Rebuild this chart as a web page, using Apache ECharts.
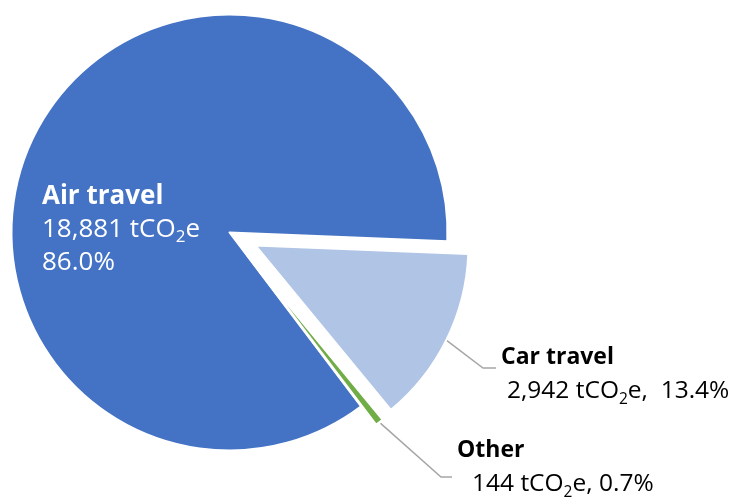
<!DOCTYPE html>
<html>
<head>
<meta charset="utf-8">
<script src="https://cdn.jsdelivr.net/npm/echarts@6/dist/echarts.min.js"></script>
<style>
html,body{margin:0;padding:0;background:#fff;}
#chart{width:735px;height:497px;}
</style>
</head>
<body>
<div id="chart"></div>
<script>
// ---- data ----
const categories = ['Car travel', 'Other', 'Air travel'];
const values = [2942, 144, 18881];
const unitPrefix = 'tCO';
const unitSub = '2';
const unitSuffix = 'e';
const colors = ['#B0C4E6', '#70AD47', '#4472C4'];

// ---- layout ----
const FONT = '"Open Sans", "Liberation Sans", sans-serif';
const CENTER = [229.5, 232.5];
const R_MAIN = 218;
const R_EXPL = 213;
const OFFSET = 29;
const START = -2.3;

const total = values.reduce((a, b) => a + b, 0);
const pct = values.map(v => (v / total * 100).toFixed(1) + '%');
const fmt = v => v.toLocaleString('en-US');

// mid angle (math degrees, ccw) of each slice
let cum = 0;
const midAngles = values.map(v => {
  const a = START - (cum + v / 2) / total * 360;
  cum += v;
  return a;
});
function shifted(i, d) {
  const t = midAngles[i] * Math.PI / 180;
  return [CENTER[0] + d * Math.cos(t), CENTER[1] - d * Math.sin(t)];
}
function edgePoint(i, r, off) {
  return shifted(i, r + off);
}

const labelPos = {
  0: { x: 501, y: 340, indent: 6, elbowDx: 13, lineY: 368 },
  1: { x: 457, y: 433, indent: 15, elbowDx: 11, lineY: 477 }
};

function richFor(size, vsize, lh, subSize, subLh, color) {
  return {
    n: { fontFamily: FONT, fontWeight: 'bold', fontSize: size, lineHeight: lh, color: color },
    v: { fontFamily: FONT, fontSize: vsize, lineHeight: lh, color: color },
    vi: { fontFamily: FONT, fontSize: vsize, lineHeight: lh, color: color, padding: [0, 0, 0, 0] },
    s: { fontFamily: FONT, fontSize: subSize, lineHeight: subLh, verticalAlign: 'bottom', color: color }
  };
}

const dark = '#000000';
const lineColor = '#A6A6A6';
const hidden = (c, v) => ({
  name: c, value: v,
  itemStyle: { color: 'rgba(0,0,0,0)', borderWidth: 0 },
  label: { show: false }, labelLine: { show: false }
});

// the large slice
const dataAir = categories.map((c, i) => {
  if (i !== 2) return hidden(c, values[i]);
  return {
    name: c, value: values[i],
    itemStyle: { color: colors[i], borderColor: '#fff', borderWidth: 2 },
    label: {
      show: true, position: 'inside',
      formatter: '{n|' + c + '}\n{v|' + fmt(values[i]) + ' ' + unitPrefix + '}{s|' + unitSub + '}{v|' + unitSuffix + '}\n{v|' + pct[i] + '}',
      rich: richFor(26, 26, 33, 17, 16, '#ffffff')
    },
    labelLine: { show: false }
  };
});

// an exploded slice (drawn by its own series, centre moved along its mid angle)
function explodedData(k) {
  return categories.map((c, i) => {
    if (i !== k) return hidden(c, values[i]);
    const rich = richFor(23, 24.5, 34, 15.5, 19, dark);
    rich.vi.padding = [0, 0, 0, labelPos[i].indent];
    const sep = i === 0 ? ',  ' : ', ';
    return {
      name: c, value: values[i],
      itemStyle: { color: colors[i], borderColor: '#fff', borderWidth: i === 1 ? 2.6 : 2 },
      label: {
        show: true, position: 'outside',
        formatter: '{n|' + c + '}\n{vi|' + fmt(values[i]) + ' ' + unitPrefix + '}{s|' + unitSub + '}{v|' + unitSuffix + sep + pct[i] + '}',
        rich: rich
      },
      labelLine: { show: true, lineStyle: { color: lineColor, width: 1.5 } }
    };
  });
}

function explodedSeries(k) {
  return {
    type: 'pie', center: shifted(k, OFFSET), radius: R_EXPL, startAngle: START, clockwise: true,
    avoidLabelOverlap: false, silent: true, selectedMode: false,
    emphasis: { disabled: true },
    data: explodedData(k),
    labelLayout: function (p) {
      const lp = labelPos[p.dataIndex];
      if (!lp || p.dataIndex !== k) return {};
      const start = edgePoint(k, R_EXPL, OFFSET);
      const end = [lp.x - 5, lp.lineY];
      const elbow = [end[0] - lp.elbowDx, end[1]];
      return {
        x: lp.x, y: lp.y, align: 'left', verticalAlign: 'top',
        labelLinePoints: [start, elbow, end]
      };
    }
  };
}

const chart = echarts.init(document.getElementById('chart'), null, { renderer: 'canvas' });
chart.setOption({
  animation: false,
  backgroundColor: '#ffffff',
  series: [
    {
      type: 'pie', center: CENTER, radius: R_MAIN, startAngle: START, clockwise: true,
      avoidLabelOverlap: false, silent: true, selectedMode: false,
      emphasis: { disabled: true },
      data: dataAir,
      labelLayout: function (p) {
        if (p.dataIndex === 2) return { x: 42, y: 180, align: 'left', verticalAlign: 'top' };
        return {};
      }
    },
    explodedSeries(0),
    explodedSeries(1)
  ]
});
</script>
</body>
</html>
